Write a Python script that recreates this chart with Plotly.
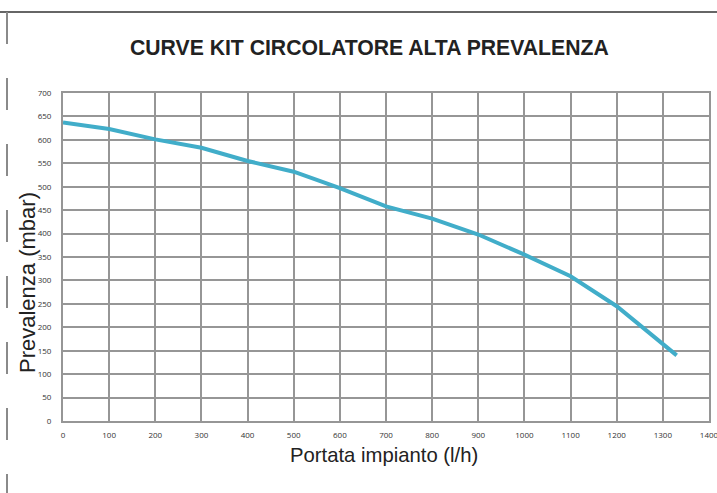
import plotly.graph_objects as go

# Data
portata = [0, 100, 200, 300, 400, 500, 600, 700, 800, 900, 1000, 1100, 1200, 1330]
prevalenza = [637, 623, 601, 583, 555, 532, 497, 458, 432, 398, 355, 309, 245, 140]

title_text = "CURVE KIT CIRCOLATORE ALTA PREVALENZA"
x_title = "Portata impianto (l/h)"
y_title = "Prevalenza (mbar)"

W, H = 717, 493
L, R, T, B = 63, 8, 93, 72
pw, ph = W - L - R, H - T - B

def px_x(p):
    return (p - L) / pw

def px_y(p):
    return (H - B - p) / ph

grid_col = "#969696"

fig = go.Figure()
fig.add_trace(go.Scatter(
    x=portata, y=prevalenza, mode="lines",
    line=dict(color="#41ADC9", width=4),
    showlegend=False, hoverinfo="skip",
))

axis_common = dict(
    showgrid=True, gridcolor=grid_col, gridwidth=2,
    showline=True, linecolor=grid_col, linewidth=2, mirror=True,
    zeroline=False, ticks="",
    tickfont=dict(family="Open Sans", size=8, color="#333333"),
    ticklabeloverflow="allow",
    automargin=False,
    fixedrange=True,
)

fig.update_xaxes(range=[0, 1400], dtick=100, tick0=0, ticklabelstandoff=5, **axis_common)
fig.update_yaxes(range=[0, 700], dtick=50, tick0=0, ticklabelstandoff=8, **axis_common)

fig.update_layout(
    width=W, height=H,
    margin=dict(l=L, r=R, t=T, b=B, pad=0, autoexpand=False),
    paper_bgcolor="white", plot_bgcolor="white",
    showlegend=False,
    annotations=[
        dict(text="<b>" + title_text + "</b>", xref="paper", yref="paper",
             x=px_x(369), y=px_y(47), xanchor="center", yanchor="middle",
             showarrow=False,
             font=dict(family="Liberation Sans", size=21.2, color="#222222")),
        dict(text=x_title, xref="paper", yref="paper",
             x=px_x(384), y=px_y(455), xanchor="center", yanchor="middle",
             showarrow=False,
             font=dict(family="Liberation Sans", size=20.3, color="#222222")),
        dict(text=y_title, xref="paper", yref="paper",
             x=px_x(27), y=px_y(283), xanchor="center", yanchor="middle",
             textangle=-90, showarrow=False,
             font=dict(family="Liberation Sans", size=22, color="#222222")),
    ],
    shapes=[
        dict(type="line", xref="paper", yref="paper",
             x0=px_x(0), x1=px_x(W), y0=px_y(12), y1=px_y(12),
             line=dict(color="#333333", width=1.5)),
        dict(type="line", xref="paper", yref="paper",
             x0=px_x(7), x1=px_x(7), y0=px_y(12), y1=px_y(H),
             line=dict(color="#8a8a8a", width=2, dash="32px,34px")),
    ],
)

fig.write_html(
    "out.html",
    config={"displayModeBar": False, "staticPlot": True},
    post_script="document.body.style.margin='0';document.body.style.padding='0';",
)
